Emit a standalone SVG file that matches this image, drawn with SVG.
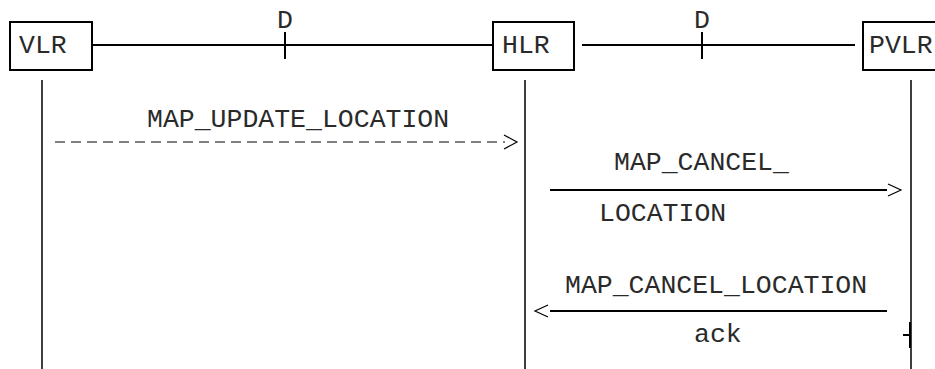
<svg xmlns="http://www.w3.org/2000/svg" width="935" height="369" viewBox="0 0 935 369">
<style>
.t{font-family:"Liberation Mono","Courier New",monospace;font-size:26.5px;fill:#2a2a2a;}
.box{fill:#fff;stroke:#000;stroke-width:2;}
.life{stroke:#000;stroke-width:1.5;fill:none;}
.link{stroke:#000;stroke-width:2;fill:none;}
.msg{stroke:#000;stroke-width:2;fill:none;}
.head{stroke:#000;stroke-width:1.2;fill:none;}
</style>
<rect width="935" height="369" fill="#fff"/>
<g id="connectors">
<line class="link" x1="92" y1="45" x2="493" y2="45"/>
<line class="link" x1="285" y1="32" x2="285" y2="59"/>
<text class="t" x="285" y="28" text-anchor="middle">D</text>
<line class="link" x1="582" y1="45" x2="855" y2="45"/>
<line class="link" x1="702" y1="32" x2="702" y2="59"/>
<text class="t" x="702" y="28" text-anchor="middle">D</text>
<line class="life" x1="42" y1="80" x2="42" y2="369"/>
<line class="life" x1="525" y1="80" x2="525" y2="369"/>
<line class="life" x1="911" y1="80" x2="911" y2="369"/>
<g id="msg1">
<text class="t" x="147" y="127">MAP_UPDATE_LOCATION</text>
<line class="head" x1="55" y1="142" x2="505" y2="142" stroke-dasharray="10 6" stroke-width="1.5"/>
<polyline class="head" points="504,135 517,142 504,149"/>
</g>
<g id="msg2">
<text class="t" x="614" y="170">MAP_CANCEL_</text>
<line class="msg" x1="550" y1="190" x2="887" y2="190"/>
<polyline class="head" points="888,184 901,190 888,196"/>
<text class="t" x="599" y="221">LOCATION</text>
</g>
<g id="msg3">
<text class="t" x="565" y="293">MAP_CANCEL_LOCATION</text>
<line class="msg" x1="550" y1="311" x2="887" y2="311"/>
<polyline class="head" points="548,305 535,311 548,317"/>
<text class="t" x="694" y="342">ack</text>
<line class="msg" x1="903" y1="335" x2="911" y2="335"/>
<line class="link" x1="910" y1="322" x2="910" y2="348" stroke-width="2.5"/>
</g>
</g>
<g id="node-vlr">
<rect class="box" x="10" y="22" width="82" height="48"/>
<text class="t" x="19" y="53">VLR</text>
</g>
<g id="node-hlr">
<rect class="box" x="493" y="22" width="81" height="48"/>
<text class="t" x="502" y="53">HLR</text>
</g>
<g id="node-pvlr">
<rect class="box" x="863" y="22" width="90" height="48"/>
<text class="t" x="869" y="53">PVLR</text>
</g>
</svg>
